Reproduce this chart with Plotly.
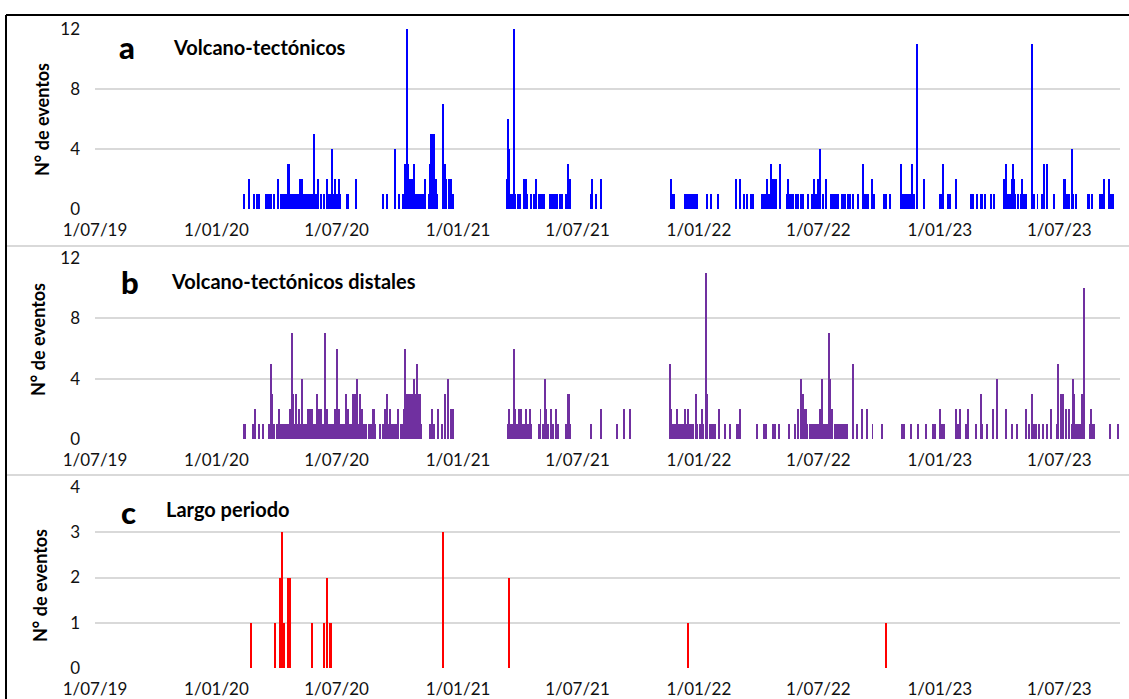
import plotly.graph_objects as go

# ---------------- data ----------------
tick_dates = ["2019-07-01", "2020-01-01", "2020-07-01", "2021-01-01", "2021-07-01",
              "2022-01-01", "2022-07-01", "2023-01-01", "2023-07-01"]
tick_labels = ["1/07/19", "1/01/20", "1/07/20", "1/01/21", "1/07/21",
               "1/01/22", "1/07/22", "1/01/23", "1/07/23"]

# (a) Volcano-tectónicos : daily counts
vt_events = [
    ("2020-02-12", 1), ("2020-02-19", 2), ("2020-02-27", 1), ("2020-03-03", 1), ("2020-03-06", 1),
    ("2020-03-16", 1), ("2020-03-18", 1), ("2020-03-21", 1), ("2020-03-23", 1), ("2020-03-28", 1),
    ("2020-04-03", 2), ("2020-04-08", 1), ("2020-04-09", 1), ("2020-04-10", 1), ("2020-04-11", 1),
    ("2020-04-13", 1), ("2020-04-14", 1), ("2020-04-15", 1), ("2020-04-16", 1), ("2020-04-17", 1),
    ("2020-04-18", 3), ("2020-04-20", 3), ("2020-04-21", 1), ("2020-04-22", 1), ("2020-04-23", 1),
    ("2020-04-24", 1), ("2020-04-27", 1), ("2020-04-29", 1), ("2020-05-02", 1), ("2020-05-04", 1),
    ("2020-05-07", 2), ("2020-05-10", 2), ("2020-05-13", 1), ("2020-05-14", 1), ("2020-05-15", 1),
    ("2020-05-16", 1), ("2020-05-17", 1), ("2020-05-18", 1), ("2020-05-19", 1), ("2020-05-20", 1),
    ("2020-05-21", 1), ("2020-05-22", 1), ("2020-05-23", 1), ("2020-05-24", 1), ("2020-05-25", 1),
    ("2020-05-26", 1), ("2020-05-28", 5), ("2020-05-31", 1), ("2020-06-03", 2), ("2020-06-07", 1),
    ("2020-06-12", 1), ("2020-06-17", 2), ("2020-06-19", 1), ("2020-06-21", 1), ("2020-06-22", 1),
    ("2020-06-23", 1), ("2020-06-24", 4), ("2020-06-25", 1), ("2020-06-26", 1), ("2020-06-27", 1),
    ("2020-06-29", 2), ("2020-07-01", 1), ("2020-07-04", 2), ("2020-07-06", 1), ("2020-07-17", 1),
    ("2020-07-19", 1), ("2020-07-30", 2), ("2020-09-09", 1), ("2020-09-16", 1), ("2020-09-28", 4),
    ("2020-10-03", 1), ("2020-10-10", 1), ("2020-10-11", 1), ("2020-10-13", 3), ("2020-10-15", 1),
    ("2020-10-16", 12), ("2020-10-18", 3), ("2020-10-20", 2), ("2020-10-24", 2), ("2020-10-26", 3),
    ("2020-10-28", 1), ("2020-10-31", 1), ("2020-11-03", 1), ("2020-11-05", 1), ("2020-11-07", 1),
    ("2020-11-09", 1), ("2020-11-12", 2), ("2020-11-18", 1), ("2020-11-19", 3), ("2020-11-20", 1),
    ("2020-11-21", 5), ("2020-11-22", 1), ("2020-11-23", 5), ("2020-11-24", 1), ("2020-11-25", 5),
    ("2020-11-26", 1), ("2020-11-27", 1), ("2020-11-28", 2), ("2020-11-29", 1), ("2020-11-30", 1),
    ("2020-12-10", 7), ("2020-12-12", 3), ("2020-12-14", 2), ("2020-12-18", 2), ("2020-12-21", 2),
    ("2020-12-24", 1),
    ("2021-03-16", 2), ("2021-03-18", 6), ("2021-03-19", 4), ("2021-03-21", 1), ("2021-03-22", 1),
    ("2021-03-25", 1), ("2021-03-27", 12), ("2021-03-29", 1), ("2021-04-02", 1), ("2021-04-05", 1),
    ("2021-04-11", 2), ("2021-04-14", 2), ("2021-04-16", 1), ("2021-04-21", 1), ("2021-04-26", 1),
    ("2021-04-29", 2), ("2021-05-03", 1), ("2021-05-05", 1), ("2021-05-08", 1), ("2021-05-12", 1),
    ("2021-05-21", 1), ("2021-05-23", 1), ("2021-05-26", 1), ("2021-05-28", 1), ("2021-05-31", 1),
    ("2021-06-04", 1), ("2021-06-07", 1), ("2021-06-14", 1), ("2021-06-15", 1), ("2021-06-16", 3),
    ("2021-06-17", 1), ("2021-06-19", 2), ("2021-06-20", 2), ("2021-07-21", 1), ("2021-07-23", 2),
    ("2021-07-29", 1), ("2021-08-05", 2), ("2021-11-19", 2), ("2021-11-22", 1), ("2021-11-23", 1),
    ("2021-11-24", 1), ("2021-11-25", 1), ("2021-12-11", 1), ("2021-12-13", 1), ("2021-12-16", 1),
    ("2021-12-19", 1), ("2021-12-21", 1), ("2021-12-24", 1), ("2021-12-26", 1), ("2021-12-27", 1),
    ("2021-12-29", 1),
    ("2022-01-13", 1), ("2022-01-20", 1), ("2022-01-30", 1), ("2022-02-26", 2), ("2022-03-04", 2),
    ("2022-03-11", 1), ("2022-03-15", 1), ("2022-03-21", 1), ("2022-03-24", 1), ("2022-04-06", 1),
    ("2022-04-08", 1), ("2022-04-09", 1), ("2022-04-10", 1), ("2022-04-12", 1), ("2022-04-13", 1),
    ("2022-04-14", 2), ("2022-04-15", 1), ("2022-04-16", 1), ("2022-04-17", 1), ("2022-04-18", 1),
    ("2022-04-20", 3), ("2022-04-22", 2), ("2022-04-25", 2), ("2022-04-28", 2), ("2022-05-04", 3),
    ("2022-05-15", 1), ("2022-05-16", 2), ("2022-05-17", 1), ("2022-05-18", 1), ("2022-05-19", 1),
    ("2022-05-20", 1), ("2022-05-23", 1), ("2022-05-28", 1), ("2022-05-31", 1), ("2022-06-04", 1),
    ("2022-06-07", 1), ("2022-06-15", 1), ("2022-06-21", 1), ("2022-06-24", 2), ("2022-06-27", 1),
    ("2022-07-01", 2), ("2022-07-03", 4), ("2022-07-08", 1), ("2022-07-12", 2), ("2022-07-20", 1),
    ("2022-07-21", 1), ("2022-07-23", 1), ("2022-07-24", 1), ("2022-07-26", 1), ("2022-07-28", 1),
    ("2022-07-30", 1), ("2022-08-06", 1), ("2022-08-07", 1), ("2022-08-08", 1), ("2022-08-10", 1),
    ("2022-08-15", 1), ("2022-08-18", 1), ("2022-08-22", 1), ("2022-08-30", 1), ("2022-09-07", 3),
    ("2022-09-08", 1), ("2022-09-09", 1), ("2022-09-11", 1), ("2022-09-12", 1), ("2022-09-13", 1),
    ("2022-09-14", 1), ("2022-09-20", 2), ("2022-09-23", 1), ("2022-10-08", 1), ("2022-10-11", 1),
    ("2022-10-18", 1), ("2022-11-03", 3), ("2022-11-05", 1), ("2022-11-06", 1), ("2022-11-07", 1),
    ("2022-11-08", 1), ("2022-11-09", 1), ("2022-11-10", 1), ("2022-11-11", 1), ("2022-11-12", 1),
    ("2022-11-13", 1), ("2022-11-14", 1), ("2022-11-15", 1), ("2022-11-16", 1), ("2022-11-17", 1),
    ("2022-11-20", 3), ("2022-11-23", 1), ("2022-11-28", 11), ("2022-12-08", 2),
    ("2023-01-02", 1), ("2023-01-04", 1), ("2023-01-06", 3), ("2023-01-13", 1), ("2023-01-17", 1),
    ("2023-01-26", 2), ("2023-02-17", 1), ("2023-02-18", 1), ("2023-02-20", 1), ("2023-02-26", 1),
    ("2023-03-04", 1), ("2023-03-06", 1), ("2023-03-11", 1), ("2023-03-19", 1), ("2023-03-24", 1),
    ("2023-04-08", 2), ("2023-04-09", 1), ("2023-04-10", 1), ("2023-04-11", 3), ("2023-04-13", 1),
    ("2023-04-15", 1), ("2023-04-17", 1), ("2023-04-21", 2), ("2023-04-22", 3), ("2023-04-23", 1),
    ("2023-04-24", 2), ("2023-04-25", 1), ("2023-04-29", 1), ("2023-05-04", 1), ("2023-05-05", 2),
    ("2023-05-08", 1), ("2023-05-12", 1), ("2023-05-20", 11), ("2023-05-21", 8), ("2023-05-24", 1),
    ("2023-05-29", 1), ("2023-06-05", 1), ("2023-06-08", 3), ("2023-06-12", 3), ("2023-06-23", 1),
    ("2023-07-08", 2), ("2023-07-10", 2), ("2023-07-12", 1), ("2023-07-16", 1), ("2023-07-20", 4),
    ("2023-07-22", 1), ("2023-07-26", 1), ("2023-08-13", 1), ("2023-08-15", 1), ("2023-08-19", 1),
    ("2023-08-31", 1), ("2023-09-03", 1), ("2023-09-07", 2), ("2023-09-14", 2), ("2023-09-18", 1),
    ("2023-09-21", 1),
]

# (b) Volcano-tectónicos distales : daily counts
vtd_events = [
    ("2020-02-11", 1), ("2020-02-12", 1), ("2020-02-14", 1), ("2020-02-25", 1), ("2020-02-26", 1),
    ("2020-02-28", 2), ("2020-03-05", 1), ("2020-03-12", 1), ("2020-03-20", 1), ("2020-03-21", 1),
    ("2020-03-22", 1), ("2020-03-23", 5), ("2020-03-24", 1), ("2020-03-25", 3), ("2020-03-28", 1),
    ("2020-04-01", 1), ("2020-04-02", 1), ("2020-04-03", 1), ("2020-04-05", 2), ("2020-04-06", 1),
    ("2020-04-08", 1), ("2020-04-09", 1), ("2020-04-10", 1), ("2020-04-11", 1), ("2020-04-12", 1),
    ("2020-04-13", 1), ("2020-04-14", 1), ("2020-04-15", 1), ("2020-04-16", 1), ("2020-04-17", 1),
    ("2020-04-18", 1), ("2020-04-19", 1), ("2020-04-20", 1), ("2020-04-21", 1), ("2020-04-22", 2),
    ("2020-04-24", 7), ("2020-04-26", 3), ("2020-04-27", 1), ("2020-04-28", 1), ("2020-04-30", 3),
    ("2020-05-01", 1), ("2020-05-03", 1), ("2020-05-05", 2), ("2020-05-06", 1), ("2020-05-08", 1),
    ("2020-05-10", 4), ("2020-05-11", 1), ("2020-05-12", 1), ("2020-05-13", 1), ("2020-05-14", 1),
    ("2020-05-16", 1), ("2020-05-18", 2), ("2020-05-19", 1), ("2020-05-20", 1), ("2020-05-22", 2),
    ("2020-05-23", 1), ("2020-05-25", 2), ("2020-05-26", 1), ("2020-05-27", 1), ("2020-05-29", 1),
    ("2020-05-30", 1), ("2020-06-01", 3), ("2020-06-02", 1), ("2020-06-03", 1), ("2020-06-05", 2),
    ("2020-06-08", 2), ("2020-06-09", 1), ("2020-06-10", 1), ("2020-06-11", 1), ("2020-06-12", 1),
    ("2020-06-14", 7), ("2020-06-15", 1), ("2020-06-17", 2), ("2020-06-18", 1), ("2020-06-19", 1),
    ("2020-06-20", 1), ("2020-06-21", 1), ("2020-06-22", 1), ("2020-06-24", 1), ("2020-06-25", 1),
    ("2020-06-26", 1), ("2020-06-28", 2), ("2020-06-29", 1), ("2020-07-01", 6), ("2020-07-02", 1),
    ("2020-07-03", 2), ("2020-07-05", 2), ("2020-07-06", 1), ("2020-07-07", 1), ("2020-07-09", 1),
    ("2020-07-10", 1), ("2020-07-12", 1), ("2020-07-13", 1), ("2020-07-15", 3), ("2020-07-16", 1),
    ("2020-07-17", 1), ("2020-07-19", 2), ("2020-07-20", 1), ("2020-07-22", 1), ("2020-07-24", 1),
    ("2020-07-26", 3), ("2020-07-27", 1), ("2020-07-29", 3), ("2020-07-30", 3), ("2020-07-31", 1),
    ("2020-08-01", 4), ("2020-08-02", 1), ("2020-08-03", 1), ("2020-08-04", 1), ("2020-08-06", 3),
    ("2020-08-08", 2), ("2020-08-09", 1), ("2020-08-11", 1), ("2020-08-14", 1), ("2020-08-19", 1),
    ("2020-08-22", 1), ("2020-08-25", 2), ("2020-08-27", 2), ("2020-08-29", 1), ("2020-09-05", 1),
    ("2020-09-09", 1), ("2020-09-13", 2), ("2020-09-15", 3), ("2020-09-17", 1), ("2020-09-20", 2),
    ("2020-09-23", 1), ("2020-09-24", 1), ("2020-09-25", 1), ("2020-09-26", 1), ("2020-09-29", 1),
    ("2020-10-02", 2), ("2020-10-06", 1), ("2020-10-08", 1), ("2020-10-11", 2), ("2020-10-13", 6),
    ("2020-10-15", 3), ("2020-10-16", 1), ("2020-10-18", 3), ("2020-10-19", 1), ("2020-10-20", 2),
    ("2020-10-21", 3), ("2020-10-22", 1), ("2020-10-24", 3), ("2020-10-25", 1), ("2020-10-26", 4),
    ("2020-10-27", 1), ("2020-10-29", 3), ("2020-10-30", 1), ("2020-10-31", 5), ("2020-11-02", 3),
    ("2020-11-03", 1), ("2020-11-04", 3), ("2020-11-06", 1), ("2020-11-20", 1), ("2020-11-23", 2),
    ("2020-11-26", 1), ("2020-12-01", 2), ("2020-12-08", 1), ("2020-12-12", 3), ("2020-12-17", 4),
    ("2020-12-21", 2), ("2020-12-24", 2),
    ("2021-03-17", 1), ("2021-03-19", 2), ("2021-03-22", 1), ("2021-03-23", 1), ("2021-03-24", 1),
    ("2021-03-25", 1), ("2021-03-27", 6), ("2021-03-29", 2), ("2021-03-31", 1), ("2021-04-03", 2),
    ("2021-04-06", 2), ("2021-04-08", 1), ("2021-04-11", 1), ("2021-04-14", 2), ("2021-04-17", 1),
    ("2021-04-20", 2), ("2021-04-22", 1), ("2021-05-04", 1), ("2021-05-06", 2), ("2021-05-10", 1),
    ("2021-05-13", 4), ("2021-05-15", 2), ("2021-05-18", 1), ("2021-05-22", 2), ("2021-05-25", 1),
    ("2021-05-29", 2), ("2021-06-01", 1), ("2021-06-14", 1), ("2021-06-15", 1), ("2021-06-16", 3),
    ("2021-06-18", 3), ("2021-06-19", 1), ("2021-06-20", 1), ("2021-07-21", 1), ("2021-08-05", 2),
    ("2021-08-30", 1), ("2021-09-10", 2), ("2021-09-18", 2), ("2021-11-18", 5), ("2021-11-19", 2),
    ("2021-11-21", 1), ("2021-11-23", 1), ("2021-11-24", 1), ("2021-11-25", 1), ("2021-11-26", 1),
    ("2021-11-27", 1), ("2021-11-29", 2), ("2021-11-30", 1), ("2021-12-02", 1), ("2021-12-04", 1),
    ("2021-12-06", 1), ("2021-12-08", 1), ("2021-12-11", 2), ("2021-12-13", 1), ("2021-12-14", 1),
    ("2021-12-16", 2), ("2021-12-18", 1), ("2021-12-21", 1), ("2021-12-23", 1), ("2021-12-27", 3),
    ("2021-12-29", 1),
    ("2022-01-02", 1), ("2022-01-05", 2), ("2022-01-07", 1), ("2022-01-11", 11), ("2022-01-12", 4),
    ("2022-01-14", 3), ("2022-01-18", 1), ("2022-01-19", 1), ("2022-01-20", 1), ("2022-01-22", 1),
    ("2022-01-23", 1), ("2022-01-25", 1), ("2022-01-31", 2), ("2022-02-10", 1), ("2022-02-17", 1),
    ("2022-02-27", 1), ("2022-03-01", 1), ("2022-03-04", 2), ("2022-03-30", 1), ("2022-04-09", 1),
    ("2022-04-10", 1), ("2022-04-12", 1), ("2022-04-23", 1), ("2022-04-27", 1), ("2022-05-03", 1),
    ("2022-05-18", 1), ("2022-05-27", 1), ("2022-05-31", 2), ("2022-06-04", 4), ("2022-06-07", 3),
    ("2022-06-09", 2), ("2022-06-10", 1), ("2022-06-12", 2), ("2022-06-14", 1), ("2022-06-18", 1),
    ("2022-06-19", 1), ("2022-06-20", 1), ("2022-06-21", 1), ("2022-06-23", 1), ("2022-06-24", 1),
    ("2022-06-25", 1), ("2022-06-26", 1), ("2022-06-27", 1), ("2022-06-28", 1), ("2022-06-29", 1),
    ("2022-06-30", 1), ("2022-07-01", 1), ("2022-07-02", 1), ("2022-07-04", 2), ("2022-07-05", 1),
    ("2022-07-07", 4), ("2022-07-08", 1), ("2022-07-10", 1), ("2022-07-11", 1), ("2022-07-13", 1),
    ("2022-07-14", 1), ("2022-07-15", 1), ("2022-07-17", 7), ("2022-07-18", 3), ("2022-07-19", 4),
    ("2022-07-20", 1), ("2022-07-22", 2), ("2022-07-26", 1), ("2022-07-27", 1), ("2022-07-29", 1),
    ("2022-07-31", 1), ("2022-08-02", 1), ("2022-08-04", 1), ("2022-08-05", 1), ("2022-08-07", 1),
    ("2022-08-09", 1), ("2022-08-10", 1), ("2022-08-12", 1), ("2022-08-14", 1), ("2022-08-22", 5),
    ("2022-08-28", 1), ("2022-09-05", 2), ("2022-09-12", 2), ("2022-09-21", 1), ("2022-10-05", 1),
    ("2022-11-05", 1), ("2022-11-06", 1), ("2022-11-08", 1), ("2022-11-19", 1), ("2022-11-29", 1),
    ("2022-12-11", 1), ("2022-12-21", 1), ("2022-12-24", 1),
    ("2023-01-01", 2), ("2023-01-05", 1), ("2023-01-07", 1), ("2023-01-25", 2), ("2023-01-28", 1),
    ("2023-02-01", 2), ("2023-02-09", 1), ("2023-02-13", 2), ("2023-02-25", 1), ("2023-03-05", 3),
    ("2023-03-06", 1), ("2023-03-13", 1), ("2023-03-22", 2), ("2023-03-28", 4), ("2023-04-11", 2),
    ("2023-04-21", 1), ("2023-04-28", 1), ("2023-05-11", 2), ("2023-05-16", 1), ("2023-05-20", 3),
    ("2023-05-23", 1), ("2023-05-27", 1), ("2023-06-01", 1), ("2023-06-07", 1), ("2023-06-12", 1),
    ("2023-06-19", 2), ("2023-06-27", 1), ("2023-06-29", 5), ("2023-07-04", 3), ("2023-07-07", 3),
    ("2023-07-11", 2), ("2023-07-15", 2), ("2023-07-21", 1), ("2023-07-22", 4), ("2023-07-23", 3),
    ("2023-07-24", 1), ("2023-07-25", 1), ("2023-07-26", 1), ("2023-07-27", 1), ("2023-07-28", 1),
    ("2023-07-29", 1), ("2023-07-30", 1), ("2023-07-31", 1), ("2023-08-01", 1), ("2023-08-02", 1),
    ("2023-08-05", 3), ("2023-08-07", 10), ("2023-08-17", 1), ("2023-08-18", 2), ("2023-08-20", 1),
    ("2023-08-22", 1), ("2023-09-16", 1), ("2023-09-28", 1),
]

# (c) Largo periodo : daily counts
lp_events = [
    ("2020-02-23", 1), ("2020-03-29", 1), ("2020-04-06", 2), ("2020-04-07", 1), ("2020-04-08", 2),
    ("2020-04-09", 1), ("2020-04-10", 3), ("2020-04-11", 1), ("2020-04-12", 1), ("2020-04-18", 1),
    ("2020-04-19", 2), ("2020-04-21", 2), ("2020-05-25", 1), ("2020-06-12", 1), ("2020-06-16", 2),
    ("2020-06-21", 1), ("2020-06-23", 1), ("2020-12-10", 3), ("2021-03-19", 2), ("2021-03-20", 1),
    ("2021-12-16", 1), ("2022-10-12", 1),
]

panel_letters = ["a", "b", "c"]
panel_titles = ["Volcano-tectónicos", "Volcano-tectónicos distales", "Largo periodo"]
y_title = "N° de eventos"

# ---------------- figure ----------------
W, H = 1129, 699
def fx(p):
    return p / W
def fy(p):
    return 1 - p / H

FONT = "Lato"
DAY_MS = 86400000
bar_w = 1.5 * DAY_MS

fig = go.Figure()
series = [(vt_events, "#0000FF"), (vtd_events, "#7030A0"), (lp_events, "#FF0000")]
for i, (events, col) in enumerate(series):
    xs = [d for d, _ in events]
    ys = [v for _, v in events]
    fig.add_trace(go.Bar(
        x=xs, y=ys, width=[bar_w] * len(xs),
        marker=dict(color=col, line=dict(width=0)),
        xaxis="x" if i == 0 else f"x{i+1}",
        yaxis="y" if i == 0 else f"y{i+1}",
        showlegend=False, hoverinfo="x+y",
    ))

x_dom = [fx(95), fx(1120)]
y_doms = [[fy(209), fy(29)], [fy(439), fy(258)], [fy(668), fy(487)]]
y_ranges = [[0, 12], [0, 12], [0, 4]]
y_ticks = [[0, 4, 8, 12], [0, 4, 8, 12], [0, 1, 2, 3, 4]]

layout = dict(
    template="none",
    width=W, height=H, autosize=False,
    margin=dict(l=0, r=0, t=0, b=0, pad=0, autoexpand=False),
    paper_bgcolor="white", plot_bgcolor="white",
    bargap=0, barmode="overlay",
    font=dict(family=FONT, color="#111111"),
)
for i in range(3):
    sx = "" if i == 0 else str(i + 1)
    layout["xaxis" + sx] = dict(
        domain=x_dom, anchor="y" + sx, type="date", automargin=False,
        range=["2019-07-01", "2023-10-01"],
        tickmode="array", tickvals=tick_dates, ticktext=tick_labels,
        showgrid=False, zeroline=False, showline=False, ticks="",
        tickfont=dict(family=FONT, size=17, color="#111111"),
        ticklabelstandoff=9,
    )
    layout["yaxis" + sx] = dict(
        domain=y_doms[i], anchor="x" + sx, automargin=False,
        range=y_ranges[i], tickmode="array", tickvals=y_ticks[i],
        showgrid=True, gridcolor="#d9d9d9", gridwidth=1.5,
        zeroline=False, showline=False, ticks="",
        tickfont=dict(family=FONT, size=17, color="#111111"),
        ticklabelstandoff=14,
    )
fig.update_layout(**layout)

# panel letters, titles and y titles
letter_pos = [(127, 47), (130, 282), (128, 512)]
title_pos = [(171, 47), (169, 281), (164, 509)]
ytitle_pos = [(42, 120), (38, 340), (40, 586)]
for i in range(3):
    lx, ly = letter_pos[i]
    fig.add_annotation(x=fx(lx), y=fy(ly), xref="paper", yref="paper", text=panel_letters[i],
                       showarrow=False, xanchor="center", yanchor="middle",
                       font=dict(family=FONT, size=31, color="black", weight=900))
    tx, ty = title_pos[i]
    fig.add_annotation(x=fx(tx), y=fy(ty), xref="paper", yref="paper", text=panel_titles[i],
                       showarrow=False, xanchor="left", yanchor="middle",
                       font=dict(family=FONT, size=20, color="black", weight="bold"))
    ax, ay = ytitle_pos[i]
    fig.add_annotation(x=fx(ax), y=fy(ay), xref="paper", yref="paper", text=y_title,
                       showarrow=False, xanchor="center", yanchor="middle", textangle=-90,
                       font=dict(family=FONT, size=18, color="black", weight="bold"))

# frame and separators
shapes = [
    dict(type="line", xref="paper", yref="paper", x0=fx(6), x1=1, y0=fy(15), y1=fy(15),
         line=dict(color="black", width=2)),
    dict(type="line", xref="paper", yref="paper", x0=fx(6), x1=fx(6), y0=fy(15), y1=0,
         line=dict(color="black", width=2)),
    dict(type="line", xref="paper", yref="paper", x0=fx(7), x1=1, y0=fy(246), y1=fy(246),
         line=dict(color="#d9d9d9", width=2)),
    dict(type="line", xref="paper", yref="paper", x0=fx(7), x1=1, y0=fy(475), y1=fy(475),
         line=dict(color="#d9d9d9", width=2)),
]
fig.update_layout(shapes=shapes)

fig.write_html("out.html")
